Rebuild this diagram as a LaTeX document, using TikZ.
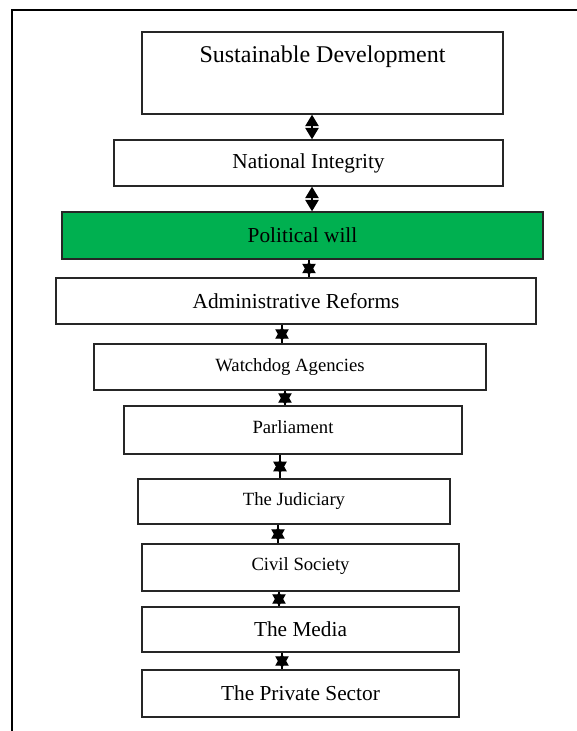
\documentclass[tikz,border=0pt]{standalone}
\usepackage{fontspec}
\setmainfont{Liberation Serif}
\usetikzlibrary{arrows.meta}
\definecolor{wordgreen}{HTML}{00B050}
\newcommand\starlink[4]{%
  \draw[stub] (#1,0 |- #2.south) -- (#1,0 |- #3.north);
  \draw[starc, shorten <=#4, shorten >=#4] (#1,0 |- #2.south) -- (#1,0 |- #3.north);}
\begin{document}
\begin{tikzpicture}[x=0.75pt,y=-0.75pt,
  box/.style={draw=black!85, line width=1.1pt, rectangle, inner sep=0pt, text=black},
  big/.style={font=\fontsize{18}{21}\selectfont},
  mid/.style={font=\fontsize{16}{19}\selectfont},
  small/.style={font=\fontsize{14}{17}\selectfont},
  stub/.style={line width=0.9pt, black},
  dia/.style={line width=0.9pt, black, {Triangle[length=8.5pt,width=10pt]}-{Triangle[length=8.5pt,width=10pt]}},
  starc/.style={line width=0.9pt, black, {Triangle[length=9pt,width=10pt]}-{Triangle[length=9pt,width=10pt]}}]
\useasboundingbox (0,0) rectangle (577,731);
\draw[line width=1.5pt] (12,731) -- (12,10) -- (577,10);

\node[box, minimum width=270.75pt, minimum height=61.5pt] (sd) at (322.5,73) {};
\node[big, anchor=base] (sdt) at (322.5,63) {Sustainable Development};
\node[box, mid, minimum width=291.75pt, minimum height=34.5pt] (ni) at (308.5,163) {National Integrity};
\node[box, mid, fill=wordgreen, minimum width=360.75pt, minimum height=35.25pt] (pw) at (302.5,235.5) {Political will};
\node[box, mid, minimum width=360pt, minimum height=34.5pt] (ar) at (296,301) {Administrative Reforms};
\node[box, small, minimum width=294pt, minimum height=34.5pt] (wa) at (290,367) {Watchdog Agencies};
\node[box, small, minimum width=253.5pt, minimum height=36pt] (pa) at (293,430) {\raisebox{4.5pt}{Parliament}};
\node[box, small, minimum width=234pt, minimum height=33.75pt] (ju) at (294,501.5) {The Judiciary};
\node[box, small, minimum width=237.75pt, minimum height=35.25pt] (cs) at (300.5,567.5) {\raisebox{4.5pt}{Civil Society}};
\node[box, mid, minimum width=237.75pt, minimum height=33.75pt] (me) at (300.5,629.5) {The Media};
\node[box, mid, minimum width=237.75pt, minimum height=35.25pt] (ps) at (300.5,693.5) {The Private Sector};

\draw[dia] (312,0 |- sd.south) -- (312,0 |- ni.north);
\draw[dia] (312,0 |- ni.south) -- (312,0 |- pw.north);
\starlink{309}{pw}{ar}{1.1pt}
\starlink{282}{ar}{wa}{1.5pt}
\starlink{285}{wa}{pa}{0pt}
\starlink{280}{pa}{ju}{3.4pt}
\starlink{278}{ju}{cs}{1.5pt}
\starlink{279}{cs}{me}{0pt}
\starlink{282}{me}{ps}{0.75pt}
\end{tikzpicture}
\end{document}
